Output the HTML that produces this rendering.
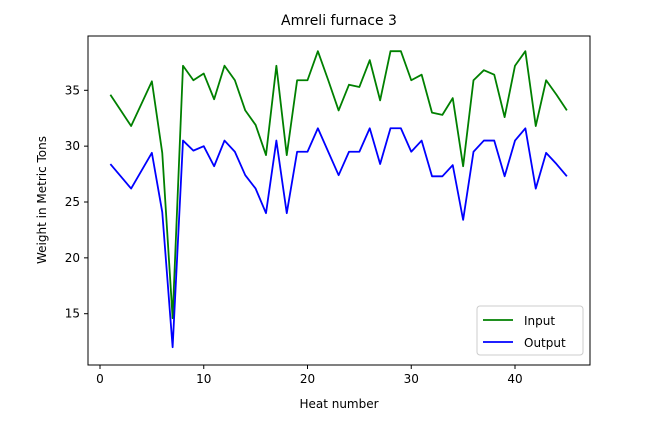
<!DOCTYPE html>
<html><head><meta charset="utf-8"><style>
html,body{margin:0;padding:0;background:#fff;}
svg text{font-family:"DejaVu Sans","Liberation Sans",sans-serif;fill:#000;}
</style></head><body>
<svg id="chart" width="651" height="418" xmlns="http://www.w3.org/2000/svg">
<text x="339" y="25" font-size="14" text-anchor="middle">Amreli furnace 3</text>
<text x="339" y="408" font-size="12" text-anchor="middle">Heat number</text>
<text x="0" y="0" font-size="12" text-anchor="middle" transform="translate(46,200) rotate(-90)">Weight in Metric Tons</text>
<g id="plot"></g>
<rect x="88" y="36" width="502" height="329" fill="none" stroke="#000" stroke-width="1"/>
<g>
<rect x="477" y="306" width="106" height="49" rx="3" fill="#fff" fill-opacity="0.8" stroke="#ccc"/>
<line x1="483" y1="320" x2="513" y2="320" stroke="#008000" stroke-width="1.8"/>
<text x="524" y="325" font-size="12">Input</text>
<line x1="483" y1="342" x2="513" y2="342" stroke="#0000ff" stroke-width="1.8"/>
<text x="524" y="347" font-size="12">Output</text>
</g>
</svg>
<script>
const heats = [];
for (let i = 1; i <= 45; i++) heats.push(i);
const inputSeries = [34.6,33.2,31.8,33.8,35.8,29.4,14.6,37.2,35.9,36.5,34.2,37.2,35.9,33.2,31.9,29.2,37.2,29.2,35.9,35.9,38.5,35.9,33.2,35.5,35.3,37.7,34.1,38.5,38.5,35.9,36.4,33.0,32.8,34.3,28.2,35.9,36.8,36.4,32.6,37.2,38.5,31.8,35.9,34.6,33.2];
const outputSeries = [28.4,27.3,26.2,27.8,29.4,24.1,12.0,30.5,29.6,30.0,28.2,30.5,29.5,27.4,26.2,24.0,30.5,24.0,29.5,29.5,31.6,29.5,27.4,29.5,29.5,31.6,28.4,31.6,31.6,29.5,30.5,27.3,27.3,28.3,23.4,29.5,30.5,30.5,27.3,30.5,31.6,26.2,29.4,28.4,27.3];
const xTicks = [0,10,20,30,40];
const yTicks = [15,20,25,30,35];

const NS = "http://www.w3.org/2000/svg";
const plot = document.getElementById('plot');
function xs(v){ return 100 + v * 10.375; }
function ys(v){ return 90.3 - (v - 35) * 11.17; }

xTicks.forEach(t => {
  const l = document.createElementNS(NS,'line');
  l.setAttribute('x1', xs(t)); l.setAttribute('x2', xs(t));
  l.setAttribute('y1', 365); l.setAttribute('y2', 369);
  l.setAttribute('stroke', '#000');
  
  
  plot.appendChild(l);
  const tx = document.createElementNS(NS,'text');
  tx.setAttribute('x', xs(t)); tx.setAttribute('y', 383);
  tx.setAttribute('font-size', '12'); tx.setAttribute('text-anchor', 'middle');
  tx.textContent = t;
  
  
  plot.appendChild(tx);
});
yTicks.forEach(t => {
  const l = document.createElementNS(NS,'line');
  l.setAttribute('x1', 84); l.setAttribute('x2', 88);
  l.setAttribute('y1', ys(t)); l.setAttribute('y2', ys(t));
  l.setAttribute('stroke', '#000');
  
  
  plot.appendChild(l);
  const tx = document.createElementNS(NS,'text');
  tx.setAttribute('x', 80); tx.setAttribute('y', ys(t) + 4);
  tx.setAttribute('font-size', '12'); tx.setAttribute('text-anchor', 'end');
  tx.textContent = t;
  
  
  plot.appendChild(tx);
});
function drawLine(vals, color, name){
  const p = document.createElementNS(NS,'polyline');
  p.setAttribute('points', vals.map((v,i) => xs(heats[i]) + ',' + ys(v)).join(' '));
  p.setAttribute('fill', 'none');
  p.setAttribute('stroke', color);
  p.setAttribute('stroke-width', '1.8');
  p.setAttribute('stroke-linejoin', 'round');
  
  
  plot.appendChild(p);
}
drawLine(inputSeries, '#008000', 'input-line');
drawLine(outputSeries, '#0000ff', 'output-line');
</script>
</body></html>
